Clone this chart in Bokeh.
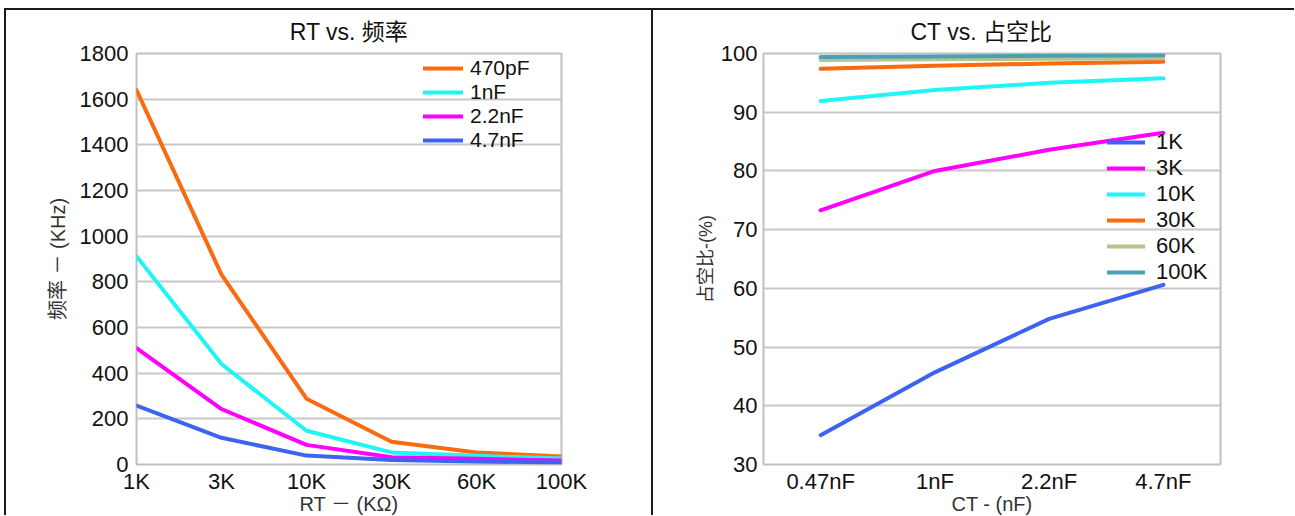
from bokeh.plotting import figure
from bokeh.layouts import row
from bokeh.models import Range1d, FixedTicker, FactorRange, Legend, LegendItem
from bokeh.embed import file_html
from bokeh.resources import INLINE

# ---------------- data: left chart (RT vs frequency) ----------------
rt_labels = ["1K", "3K", "10K", "30K", "60K", "100K"]
freq_series = ["470pF", "1nF", "2.2nF", "4.7nF"]
freq_470pF = [1640, 832, 288, 100, 53, 35]
freq_1nF = [912, 440, 148, 53, 38, 26]
freq_2_2nF = [510, 243, 86, 32, 25, 17]
freq_4_7nF = [258, 117, 39, 20, 13, 9]
freq_ticks = [0, 200, 400, 600, 800, 1000, 1200, 1400, 1600, 1800]

# ---------------- data: right chart (CT vs duty) ----------------
ct_labels = ["0.47nF", "1nF", "2.2nF", "4.7nF"]
duty_series = ["1K", "3K", "10K", "30K", "60K", "100K"]
duty_1K = [35.0, 45.7, 54.8, 60.6]
duty_3K = [73.3, 80.0, 83.6, 86.5]
duty_10K = [91.9, 93.8, 95.0, 95.8]
duty_30K = [97.4, 97.9, 98.3, 98.6]
duty_60K = [98.9, 99.0, 99.1, 99.2]
duty_100K = [99.4, 99.5, 99.6, 99.7]
duty_ticks = [30, 40, 50, 60, 70, 80, 90, 100]

FONT = "'Liberation Sans', 'Noto Sans CJK SC', sans-serif"
BORDER = "2px solid #1a1a1a"
GRID = "#c8c8c8"

freq_colors = ["#fa6a0e", "#1ff5f5", "#ff00ff", "#3d63f2"]
duty_colors = ["#3d63f2", "#ff00ff", "#1ff5f5", "#fa6a0e", "#b8c48e", "#4aa0b5"]


def style(p, xlabel, ylabel):
    p.title.text_font = FONT
    p.title.text_font_size = "23px"
    p.title.text_font_style = "normal"
    p.title.text_color = "#111111"
    p.title.vertical_align = "top"
    p.xgrid.visible = False
    p.ygrid.grid_line_color = GRID
    p.ygrid.grid_line_width = 2
    p.outline_line_color = "#c0c0c0"
    p.outline_line_width = 2
    p.background_fill_color = "white"
    p.border_fill_color = "white"
    for ax in (p.xaxis[0], p.yaxis[0]):
        ax.axis_line_color = None
        ax.major_tick_line_color = None
        ax.minor_tick_line_color = None
        ax.major_tick_out = 0
        ax.major_tick_in = 0
        ax.minor_tick_out = 0
        ax.minor_tick_in = 0
        ax.major_label_text_font = FONT
        ax.major_label_text_font_size = "22px"
        ax.major_label_text_color = "#111111"
        ax.axis_label_text_font = FONT
        ax.axis_label_text_font_size = "20px"
        ax.axis_label_text_font_style = "normal"
        ax.axis_label_text_color = "#333333"
    p.xaxis[0].axis_label = xlabel
    p.yaxis[0].axis_label = ylabel
    p.xaxis[0].major_label_standoff = 4
    p.xaxis[0].axis_label_standoff = -4
    p.yaxis[0].major_label_standoff = 8
    p.yaxis[0].axis_label_standoff = 8


# ---------------- left figure ----------------
p1 = figure(width=649, height=507,
            x_range=Range1d(0, len(rt_labels) - 1), y_range=Range1d(freq_ticks[0], freq_ticks[-1]),
            output_backend="svg", toolbar_location=None,
            min_border_left=130, min_border_right=94, min_border_top=41, min_border_bottom=51,
            title="RT vs. 频率",
            styles={"border-top": BORDER, "border-left": BORDER, "border-right": BORDER})
p1.margin = (8, 0, 0, 4)
style(p1, "RT － (KΩ)", "频率 － (KHz)")
p1.title.align = "center"
p1.title.standoff = 13
xs = list(range(len(rt_labels)))
p1.xaxis[0].ticker = FixedTicker(ticks=xs)
p1.xaxis[0].major_label_overrides = {i: lab for i, lab in zip(xs, rt_labels)}
p1.yaxis[0].ticker = FixedTicker(ticks=freq_ticks)

items = []
for name, vals, col in zip(freq_series, [freq_470pF, freq_1nF, freq_2_2nF, freq_4_7nF], freq_colors):
    r = p1.line(xs, vals, line_color=col, line_width=4, line_cap="round", line_join="round")
    items.append(LegendItem(label=name, renderers=[r]))
leg1 = Legend(items=items, location=(287, 312), padding=0, margin=0, spacing=0,
              glyph_width=40, glyph_height=20, label_standoff=7,
              label_text_font=FONT, label_text_font_size="21px", label_text_color="#111111",
              background_fill_alpha=0, border_line_alpha=0)
p1.add_layout(leg1)

# ---------------- right figure ----------------
p2 = figure(width=641, height=507,
            x_range=FactorRange(factors=ct_labels, range_padding=0),
            y_range=Range1d(duty_ticks[0], duty_ticks[-1]),
            output_backend="svg", toolbar_location=None,
            min_border_left=110, min_border_right=74, min_border_top=43, min_border_bottom=51,
            title="CT vs. 占空比",
            styles={"border-top": BORDER})
p2.margin = (8, 0, 0, 0)
style(p2, "CT - (nF)", "占空比-(%)")
p2.title.align = "left"
p2.title.offset = 147
p2.title.standoff = 14
p2.yaxis[0].ticker = FixedTicker(ticks=duty_ticks)
p2.yaxis[0].major_label_standoff = 6
p2.yaxis[0].axis_label_standoff = 2
p2.yaxis[0].axis_label_text_font_size = "18px"

items2 = []
for name, vals, col in zip(duty_series, [duty_1K, duty_3K, duty_10K, duty_30K, duty_60K, duty_100K], duty_colors):
    r = p2.line(ct_labels, vals, line_color=col, line_width=4, line_cap="round", line_join="round")
    items2.append(LegendItem(label=name, renderers=[r]))
leg2 = Legend(items=items2, location=(344, 179), padding=0, margin=0, spacing=0,
              glyph_width=38, glyph_height=20, label_standoff=11,
              label_text_font=FONT, label_text_font_size="22px", label_text_color="#111111",
              background_fill_alpha=0, border_line_alpha=0)
p2.add_layout(leg2)

layout = row(p1, p2)
open("out.html", "w").write(file_html(layout, INLINE))
